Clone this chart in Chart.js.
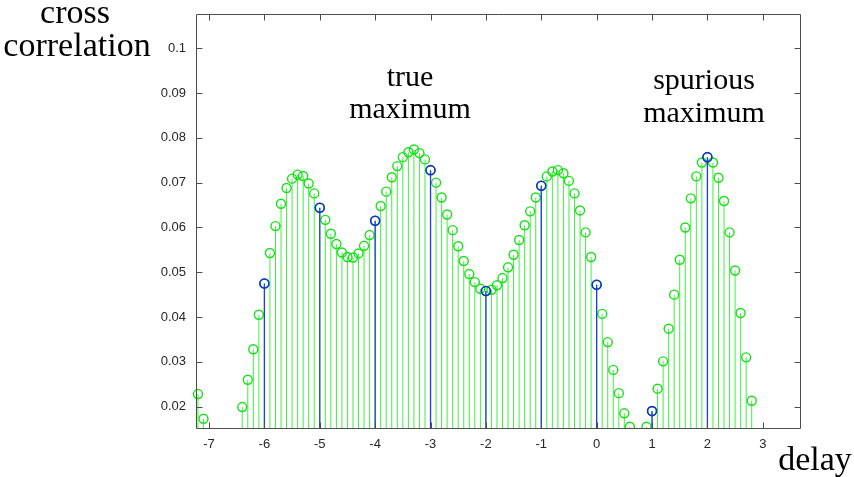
<!DOCTYPE html>
<html><head><meta charset="utf-8">
<script src="https://cdn.jsdelivr.net/npm/chart.js@4/dist/chart.umd.min.js"></script>
<style>html,body{margin:0;padding:0;background:#fff}#wrap{width:854px;height:477px;position:relative}</style>
</head><body><div id="wrap"><canvas id="c" width="854" height="477"></canvas></div>
<script>
// ---- data ----
const delays = [
  -7.2,-7.1,-7.0,-6.9,-6.8,-6.7,-6.6,-6.5,-6.4,-6.3,-6.2,-6.1,
  -6.0,-5.9,-5.8,-5.7,-5.6,-5.5,-5.4,-5.3,-5.2,-5.1,
  -5.0,-4.9,-4.8,-4.7,-4.6,-4.5,-4.4,-4.3,-4.2,-4.1,
  -4.0,-3.9,-3.8,-3.7,-3.6,-3.5,-3.4,-3.3,-3.2,-3.1,
  -3.0,-2.9,-2.8,-2.7,-2.6,-2.5,-2.4,-2.3,-2.2,-2.1,
  -2.0,-1.9,-1.8,-1.7,-1.6,-1.5,-1.4,-1.3,-1.2,-1.1,
  -1.0,-0.9,-0.8,-0.7,-0.6,-0.5,-0.4,-0.3,-0.2,-0.1,
  0.0,0.1,0.2,0.3,0.4,0.5,0.6,0.7,0.8,0.9,
  1.0,1.1,1.2,1.3,1.4,1.5,1.6,1.7,1.8,1.9,
  2.0,2.1,2.2,2.3,2.4,2.5,2.6,2.7,2.8
];
const correlation = [
  0.0228,0.0173,null,null,null,null,null,null,0.0199,0.0260,0.0328,0.0405,
  0.0475,0.0543,0.0603,0.0653,0.0688,0.0709,0.0718,0.0715,0.0698,0.0676,
  0.0644,0.0617,0.0586,0.0563,0.0544,0.0534,0.0533,0.0542,0.0559,0.0583,
  0.0615,0.0648,0.0680,0.0712,0.0737,0.0757,0.0768,0.0774,0.0766,0.0752,
  0.0728,0.0700,0.0667,0.0629,0.0594,0.0558,0.0525,0.0496,0.0478,0.0463,
  0.0458,0.0461,0.0471,0.0487,0.0511,0.0539,0.0572,0.0605,0.0636,0.0667,
  0.0693,0.0714,0.0725,0.0728,0.0721,0.0704,0.0676,0.0638,0.0589,0.0534,
  0.0472,0.0407,0.0344,0.0282,0.0230,0.0185,0.0155,null,null,0.0155,
  0.0190,0.0240,0.0301,0.0374,0.0450,0.0528,0.0600,0.0665,0.0714,0.0745,
  0.0757,0.0745,0.0711,0.0659,0.0589,0.0504,0.0409,0.0310,0.0213
];
const sampleDelays = [-6,-5,-4,-3,-2,-1,0,1,2];
const sampleValues = [0.0475,0.0644,0.0615,0.0728,0.0458,0.0693,0.0472,0.0190,0.0757];
const xTicks = [-7,-6,-5,-4,-3,-2,-1,0,1,2,3];
const xTickLabels = ['-7','-6','-5','-4','-3','-2','-1','0','1','2','3'];
const yTicks = [0.02,0.03,0.04,0.05,0.06,0.07,0.08,0.09,0.1];
const yTickLabels = ['0.02','0.03','0.04','0.05','0.06','0.07','0.08','0.09','0.1'];
const yAxisLabel = ['cross','correlation'];
const xAxisLabel = 'delay';
const noteTrue = ['true','maximum'];
const noteSpurious = ['spurious','maximum'];

// ---- build datasets ----
function stemData(xs, ys){
  const out = [];
  xs.forEach((x,i)=>{ if(ys[i]==null) return; out.push({x:x,y:0},{x:x,y:ys[i]},{x:x,y:null}); });
  return out;
}
function pointData(xs, ys){ return xs.map((x,i)=>({x:x,y:ys[i]})); }

const GREEN_STEM='#40f040', GREEN_PT='#16e016', BLUE_STEM='#1d3fe0', BLUE_PT='#1530d0';

const framePlugin = {
  id:'frame',
  afterDraw(chart){
    const {ctx, chartArea:a, scales} = chart;
    const xs = scales.x, ys = scales.y;
    ctx.save();
    ctx.strokeStyle = '#4d4d4d';
    ctx.lineWidth = 1;
    const L = Math.round(a.left)-0.5, R = Math.round(a.right)-0.5, T = Math.round(a.top)+0.5, B = Math.round(a.bottom)-0.5;
    ctx.beginPath();
    ctx.rect(L, T, R-L, B-T);
    xTicks.forEach(v=>{
      const p = Math.round(xs.getPixelForValue(v))+0.5;
      ctx.moveTo(p,B); ctx.lineTo(p,B-6);
      ctx.moveTo(p,T); ctx.lineTo(p,T+6);
    });
    yTicks.forEach(v=>{
      const p = Math.round(ys.getPixelForValue(v))+0.5;
      ctx.moveTo(L,p); ctx.lineTo(L+6,p);
      ctx.moveTo(R,p); ctx.lineTo(R-6,p);
    });
    ctx.stroke();
    ctx.fillStyle = '#000';
    ctx.textAlign = 'center';
    ctx.textBaseline = 'alphabetic';
    ctx.font = '34px "Liberation Serif"';
    ctx.fillText(yAxisLabel[0], 75, 23);
    ctx.fillText(yAxisLabel[1], 77, 56);
    ctx.fillText(xAxisLabel, 815, 470);
    ctx.font = '30px "Liberation Serif"';
    ctx.fillText(noteTrue[0], 410, 86);
    ctx.fillText(noteTrue[1], 410, 118);
    ctx.fillText(noteSpurious[0], 704, 89);
    ctx.fillText(noteSpurious[1], 704, 122);
    ctx.restore();
  }
};

const tickFont = {family:'"Liberation Sans", Arial, sans-serif', size:13};

new Chart(document.getElementById('c'), {
  type:'line',
  data:{ datasets:[
    {data:pointData(sampleDelays, sampleValues), showLine:false, pointRadius:4.5, pointBorderWidth:1.6,
     pointBorderColor:BLUE_PT, pointBackgroundColor:'rgba(0,0,0,0)', clip:{left:10,right:10,top:10,bottom:0}},
    {data:stemData(sampleDelays, sampleValues), borderColor:BLUE_STEM, borderWidth:1.3, pointRadius:0, spanGaps:false, clip:0},
    {data:pointData(delays, correlation), showLine:false, pointRadius:4.5, pointBorderWidth:1.4,
     pointBorderColor:GREEN_PT, pointBackgroundColor:'rgba(0,0,0,0)', clip:{left:10,right:10,top:10,bottom:0}},
    {data:stemData(delays, correlation), borderColor:GREEN_STEM, borderWidth:1, pointRadius:0, spanGaps:false, clip:0}
  ]},
  options:{
    responsive:false, animation:false, events:[],
    layout:{padding:{left:0, top:14, right:53, bottom:0}},
    plugins:{legend:{display:false}, tooltip:{enabled:false}, title:{display:false}},
    scales:{
      x:{type:'linear', min:-7.217, max:3.69,
         grid:{display:false, drawTicks:false}, border:{display:false},
         afterBuildTicks:s=>{ s.ticks = xTicks.map(v=>({value:v})); },
         afterFit:s=>{ s.height = 48; s.paddingLeft = 0; s.paddingRight = 0; },
         ticks:{padding:8, font:tickFont, color:'#262626', maxRotation:0, autoSkip:false,
                callback:(v,i)=>xTickLabels[i]}},
      y:{type:'linear', min:0.015, max:0.10766,
         grid:{display:false, drawTicks:false}, border:{display:false},
         afterBuildTicks:s=>{ s.ticks = yTicks.map(v=>({value:v})); },
         afterFit:s=>{ s.width = 197; s.paddingTop = 0; s.paddingBottom = 0; },
         ticks:{padding:11, font:tickFont, color:'#262626', autoSkip:false,
                callback:(v,i)=>yTickLabels[i]}}
    }
  },
  plugins:[framePlugin]
});
</script></body></html>
